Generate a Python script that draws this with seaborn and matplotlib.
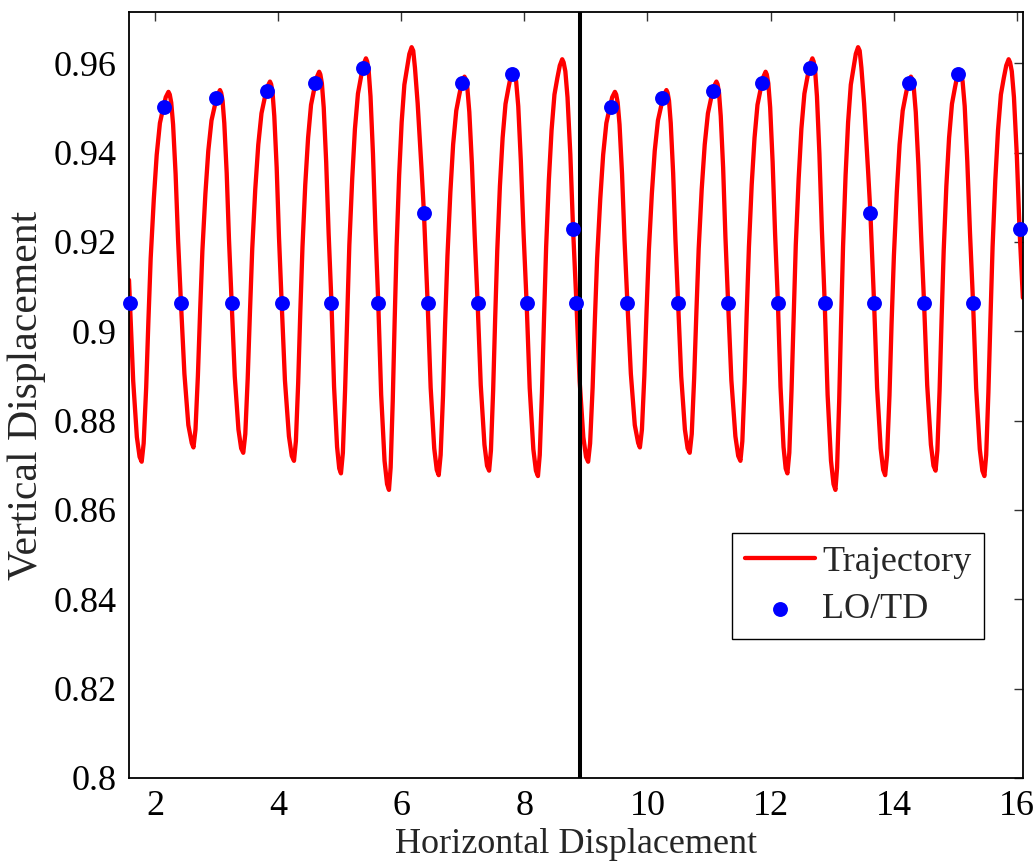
import numpy as np
import matplotlib
matplotlib.use("Agg")
import matplotlib.pyplot as plt
import seaborn as sns

# ---------------- data ----------------
# one gait period of the trajectory (the plot shows this period twice)
period_x = [1.578,
            1.594, 1.646, 1.706, 1.750, 1.784, 1.816, 1.857, 1.893, 1.930, 1.981,
            2.028, 2.080, 2.132, 2.175, 2.219, 2.240, 2.264, 2.294, 2.335, 2.375,
            2.422, 2.478, 2.542, 2.597, 2.625, 2.658, 2.697, 2.733, 2.770, 2.819,
            2.866, 2.918, 2.970, 3.013, 3.056, 3.075, 3.098, 3.126, 3.165, 3.202,
            3.246, 3.296, 3.356, 3.400, 3.434, 3.467, 3.506, 3.543, 3.580, 3.629,
            3.678, 3.730, 3.782, 3.824, 3.868, 3.887, 3.910, 3.938, 3.977, 4.014,
            4.058, 4.111, 4.176, 4.222, 4.258, 4.289, 4.326, 4.360, 4.396, 4.441,
            4.487, 4.535, 4.586, 4.626, 4.667, 4.686, 4.711, 4.741, 4.781, 4.821,
            4.867, 4.909, 4.958, 4.993, 5.021, 5.052, 5.088, 5.123, 5.157, 5.204,
            5.248, 5.297, 5.346, 5.386, 5.427, 5.447, 5.471, 5.501, 5.541, 5.581,
            5.627, 5.674, 5.729, 5.770, 5.801, 5.828, 5.862, 5.893, 5.925, 5.966,
            6.007, 6.051, 6.096, 6.132, 6.169, 6.195, 6.223, 6.267, 6.299, 6.332, 6.369,
            6.429, 6.478, 6.536, 6.577, 6.609, 6.640, 6.679, 6.713, 6.751, 6.798,
            6.843, 6.894, 6.944, 6.985, 7.027, 7.048, 7.074, 7.106, 7.149, 7.193,
            7.241, 7.292, 7.352, 7.394, 7.428, 7.457, 7.493, 7.526, 7.560, 7.603,
            7.647, 7.694, 7.742, 7.781, 7.820, 7.841, 7.867, 7.901, 7.943, 7.987,
            8.037, 8.087, 8.146, 8.188, 8.221, 8.250, 8.286, 8.320, 8.354, 8.398,
            8.442, 8.489, 8.536, 8.576, 8.615, 8.638, 8.666, 8.701, 8.747, 8.792]
period_y = [0.9115,
            0.9063, 0.8889, 0.8763, 0.8719, 0.8708, 0.8749, 0.8874, 0.9023, 0.9163, 0.9296,
            0.9395, 0.9466, 0.9499, 0.9524, 0.9536, 0.9530, 0.9512, 0.9463, 0.9352, 0.9205,
            0.9063, 0.8905, 0.8790, 0.8750, 0.8740, 0.8780, 0.8900, 0.9044, 0.9180, 0.9308,
            0.9404, 0.9472, 0.9504, 0.9528, 0.9540, 0.9534, 0.9516, 0.9466, 0.9354, 0.9206,
            0.9063, 0.8899, 0.8780, 0.8738, 0.8728, 0.8770, 0.8894, 0.9044, 0.9185, 0.9318,
            0.9418, 0.9488, 0.9522, 0.9547, 0.9559, 0.9553, 0.9534, 0.9482, 0.9366, 0.9212,
            0.9063, 0.8890, 0.8765, 0.8721, 0.8710, 0.8754, 0.8884, 0.9041, 0.9189, 0.9328,
            0.9433, 0.9507, 0.9542, 0.9568, 0.9581, 0.9575, 0.9555, 0.9501, 0.9379, 0.9218,
            0.9063, 0.8876, 0.8741, 0.8693, 0.8682, 0.8728, 0.8868, 0.9035, 0.9193, 0.9342,
            0.9453, 0.9532, 0.9569, 0.9597, 0.9611, 0.9604, 0.9584, 0.9526, 0.9397, 0.9227,
            0.9063, 0.8858, 0.8710, 0.8658, 0.8645, 0.8695, 0.8843, 0.9022, 0.9190, 0.9349,
            0.9468, 0.9552, 0.9591, 0.9621, 0.9636, 0.9628, 0.9590, 0.9510, 0.9435, 0.9358, 0.9265,
            0.9063, 0.8874, 0.8738, 0.8690, 0.8678, 0.8723, 0.8856, 0.9017, 0.9169, 0.9311,
            0.9418, 0.9494, 0.9530, 0.9557, 0.9570, 0.9564, 0.9545, 0.9491, 0.9372, 0.9215,
            0.9063, 0.8879, 0.8746, 0.8699, 0.8688, 0.8733, 0.8867, 0.9029, 0.9181, 0.9325,
            0.9433, 0.9509, 0.9545, 0.9572, 0.9585, 0.9579, 0.9559, 0.9504, 0.9381, 0.9220,
            0.9063, 0.8873, 0.8736, 0.8688, 0.8676, 0.8723, 0.8863, 0.9031, 0.9189, 0.9338,
            0.9450, 0.9530, 0.9567, 0.9595, 0.9609, 0.9602, 0.9582, 0.9524, 0.9396, 0.9227]
PERIOD_SHIFT = 7.252          # the second period repeats the first one
END_X, END_Y = 16.098, 0.9075  # last trajectory sample at the right edge

# touch-down events (one period) and lift-off events (one period)
td_x = [1.594, 2.422, 3.246, 4.058, 4.867, 5.627, 6.429, 7.241, 8.037]
td_y = [0.9063] * 9
lo_x = [2.151, 2.991, 3.814, 4.604, 5.383, 6.369, 6.991, 7.794, 8.794]
lo_y = [0.9502, 0.9522, 0.9538, 0.9555, 0.9589, 0.9265, 0.9555, 0.9575, 0.9228]

BOUNDARY_X = 8.911

x_ticks = [2, 4, 6, 8, 10, 12, 14, 16]
x_tick_labels = ["2", "4", "6", "8", "10", "12", "14", "16"]
y_ticks = [0.80, 0.82, 0.84, 0.86, 0.88, 0.90, 0.92, 0.94, 0.96]
y_tick_labels = ["0.8", "0.82", "0.84", "0.86", "0.88", "0.9", "0.92", "0.94", "0.96"]

# ---------------- build series ----------------
traj_x = np.concatenate([period_x, np.array(period_x) + PERIOD_SHIFT, [END_X]])
traj_y = np.concatenate([period_y, period_y, [END_Y]])
ev_x1 = np.concatenate([td_x, lo_x])
ev_y1 = np.concatenate([td_y, lo_y])
dots_x = np.concatenate([ev_x1, ev_x1 + PERIOD_SHIFT])
dots_y = np.concatenate([ev_y1, ev_y1])

# ---------------- style ----------------
sns.set_style("white")
plt.rcParams['font.family'] = ['Liberation Serif', 'DejaVu Serif']
plt.rcParams['font.size'] = 26

fig = plt.figure(figsize=(10.34, 8.64), dpi=100)
ax = fig.add_axes([0.12476, 0.09954, 0.8646, 0.88669])

sns.lineplot(x=traj_x, y=traj_y, sort=False, estimator=None, color='#ff0000',
             lw=3.1, label='Trajectory', ax=ax, zorder=2)
ax.axvline(BOUNDARY_X, color='black', lw=2.9, zorder=3)
sns.scatterplot(x=dots_x, y=dots_y, color='#0000ff', s=115, linewidth=0,
                label='LO/TD', ax=ax, zorder=4, clip_on=False)

ax.set_xlim(1.578, 16.10)
ax.set_ylim(0.8, 0.9715)
ax.set_xticks(x_ticks)
ax.set_xticklabels(x_tick_labels)
ax.set_yticks(y_ticks)
ax.set_yticklabels(y_tick_labels)
ax.tick_params(direction='in', length=6.3, width=1.0, top=True, right=True,
               labelsize=26, pad=8.6, color='#333333', labelcolor='black')
for s in ax.spines.values():
    s.set_visible(True)
    s.set_color('black')
    s.set_linewidth(1.3)

ax.set_xlabel('Horizontal Displacement', fontsize=26, labelpad=4)
ax.set_ylabel('Vertical Displacement', fontsize=30, labelpad=6)

handles, labels = ax.get_legend_handles_labels()
leg = ax.legend(handles, labels, loc='upper left', bbox_to_anchor=(0.674, 0.320),
                borderaxespad=0, fontsize=26, frameon=True, fancybox=False,
                edgecolor='black', framealpha=1, handlelength=1.95,
                handletextpad=0.2, borderpad=0.36, labelspacing=0.38)
leg.get_frame().set_linewidth(1.0)

fig.savefig('out.png', dpi=100, facecolor='white')
